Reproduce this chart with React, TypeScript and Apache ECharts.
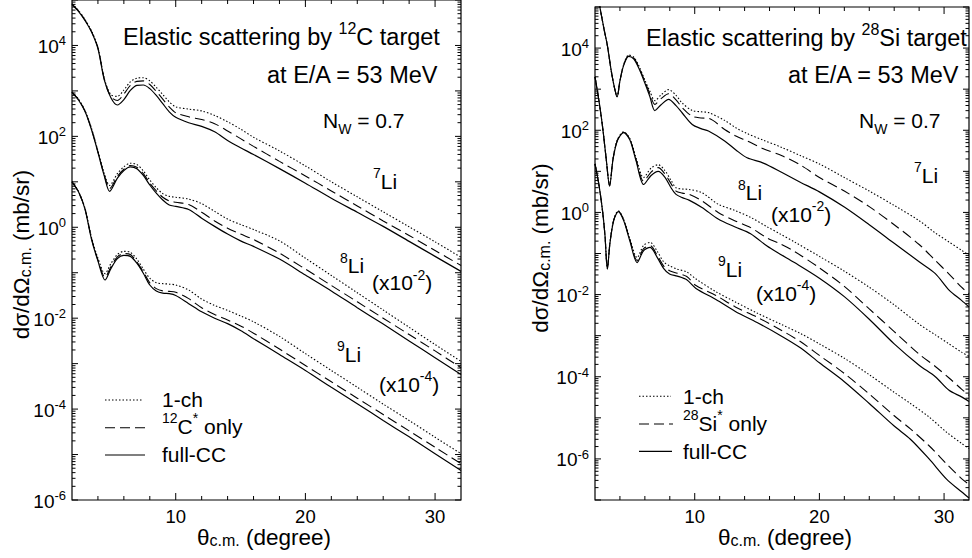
import React, { useEffect, useRef } from "react";
import * as echarts from "echarts";

const FONT = '"Liberation Sans", Arial, Helvetica, sans-serif';

// ---------- axes ----------
const X_MIN = 2;
const X_MAX = 32;
const xMajorTicks = [10, 20, 30];
const xMinorTicks = [4, 6, 8, 12, 14, 16, 18, 22, 24, 26, 28];
const yDecadesC = [-6, -5, -4, -3, -2, -1, 0, 1, 2, 3, 4, 5];
const yDecadesSi = [-7, -6, -5, -4, -3, -2, -1, 0, 1, 2, 3, 4, 5];
const yLabelExponents = [-6, -4, -2, 0, 2, 4];

// ---------- 12C target (left panel) : values are log10(dσ/dΩ) ----------
const thetaC7 = [2, 2.5, 3, 3.5, 4, 4.5, 5, 5.5, 6, 6.5, 7, 7.5, 8, 8.5, 9, 9.5, 10, 11, 12, 13, 14, 15, 16, 18, 20, 22, 24, 26, 28, 30, 32];
const c12Li7OneCh = [4.92, 4.77, 4.57, 4.32, 3.96, 3.26, 2.92, 2.88, 3.02, 3.2, 3.28, 3.29, 3.22, 3.08, 2.92, 2.76, 2.65, 2.6, 2.56, 2.46, 2.32, 2.16, 1.98, 1.68, 1.35, 1.0, 0.67, 0.34, 0.01, -0.32, -0.66];
const c12Li7Core = [4.91, 4.76, 4.56, 4.31, 3.95, 3.25, 2.87, 2.79, 2.93, 3.12, 3.21, 3.22, 3.14, 2.99, 2.82, 2.65, 2.52, 2.43, 2.37, 2.28, 2.12, 1.95, 1.78, 1.45, 1.13, 0.8, 0.47, 0.14, -0.18, -0.51, -0.84];
const c12Li7Full = [4.9, 4.75, 4.55, 4.3, 3.93, 3.23, 2.85, 2.69, 2.81, 3.01, 3.12, 3.13, 3.05, 2.9, 2.72, 2.54, 2.42, 2.3, 2.22, 2.1, 1.91, 1.75, 1.6, 1.29, 0.97, 0.64, 0.33, 0.02, -0.31, -0.64, -0.97];

const thetaC8 = [2, 2.5, 3, 3.5, 4, 4.5, 4.9, 5.5, 6, 6.5, 7, 7.5, 8, 8.5, 9, 9.5, 10, 11, 12, 13, 14, 15, 16, 18, 20, 22, 24, 26, 28, 30, 32];
const c12Li8OneCh = [2.98, 2.82, 2.57, 2.18, 1.68, 1.17, 0.92, 1.18, 1.33, 1.41, 1.38, 1.24, 1.04, 0.87, 0.74, 0.68, 0.66, 0.62, 0.52, 0.35, 0.18, 0.06, -0.05, -0.3, -0.68, -1.06, -1.44, -1.82, -2.2, -2.58, -2.95];
const c12Li8Core = [2.97, 2.81, 2.56, 2.16, 1.66, 1.14, 0.85, 1.12, 1.28, 1.36, 1.32, 1.18, 0.97, 0.8, 0.66, 0.58, 0.55, 0.5, 0.33, 0.14, -0.02, -0.15, -0.27, -0.57, -0.92, -1.28, -1.64, -2.0, -2.36, -2.72, -3.09];
const c12Li8Full = [2.97, 2.8, 2.55, 2.15, 1.65, 1.12, 0.79, 1.08, 1.25, 1.33, 1.29, 1.14, 0.93, 0.75, 0.6, 0.49, 0.46, 0.39, 0.2, 0.02, -0.15, -0.3, -0.42, -0.7, -1.05, -1.4, -1.77, -2.13, -2.5, -2.87, -3.24];

const thetaC9 = [2, 2.5, 3, 3.5, 4, 4.55, 5, 5.5, 6, 6.5, 7, 7.5, 8, 8.5, 9, 9.5, 10, 11, 12, 13, 14, 15, 16, 18, 20, 22, 24, 26, 28, 30, 32];
const c12Li9OneCh = [1.01, 0.79, 0.42, -0.22, -0.68, -1.02, -0.8, -0.6, -0.53, -0.55, -0.7, -0.92, -1.12, -1.22, -1.24, -1.25, -1.27, -1.38, -1.58, -1.72, -1.83, -1.95, -2.08, -2.4, -2.78, -3.15, -3.52, -3.89, -4.25, -4.62, -4.98];
const c12Li9Core = [1.0, 0.78, 0.41, -0.24, -0.72, -1.1, -0.87, -0.65, -0.58, -0.6, -0.76, -0.98, -1.22, -1.35, -1.4, -1.41, -1.43, -1.57, -1.77, -1.92, -2.04, -2.17, -2.33, -2.68, -3.04, -3.4, -3.76, -4.12, -4.48, -4.84, -5.2];
const c12Li9Full = [1.0, 0.78, 0.4, -0.26, -0.74, -1.16, -0.91, -0.69, -0.62, -0.64, -0.79, -1.01, -1.27, -1.4, -1.45, -1.46, -1.5, -1.68, -1.86, -2.0, -2.12, -2.27, -2.45, -2.8, -3.15, -3.52, -3.88, -4.25, -4.61, -4.98, -5.35];

// ---------- 28Si target (right panel) : values are log10(dσ/dΩ) ----------
const thetaS7 = [2, 2.4, 2.7, 3.0, 3.3, 3.55, 3.77, 4.0, 4.3, 4.7, 5.1, 5.5, 6.0, 6.4, 6.8, 7.3, 7.9, 8.5, 9.0, 9.8, 10.5, 11.1, 12.4, 13.3, 14.2, 15.5, 17, 18.5, 20, 22, 24, 26, 28, 29.3, 30.4, 31.4, 32];
const si28Li7OneCh = [5.6, 4.98, 4.5, 4.05, 3.45, 3.05, 2.82, 3.21, 3.6, 3.83, 3.78, 3.58, 3.22, 2.95, 2.72, 2.86, 2.99, 2.85, 2.66, 2.48, 2.45, 2.43, 2.24, 2.06, 1.92, 1.76, 1.58, 1.38, 1.18, 0.85, 0.52, 0.17, -0.2, -0.5, -0.72, -0.92, -1.04];
const si28Li7Core = [5.6, 4.98, 4.5, 4.05, 3.45, 3.05, 2.81, 3.2, 3.59, 3.81, 3.76, 3.55, 3.19, 2.89, 2.63, 2.77, 2.89, 2.74, 2.55, 2.34, 2.3, 2.29, 2.02, 1.86, 1.74, 1.55, 1.38, 1.15, 0.85, 0.52, 0.14, -0.3, -0.78, -1.17, -1.5, -1.82, -1.98];
const si28Li7Full = [5.6, 4.98, 4.5, 4.05, 3.45, 3.05, 2.81, 3.2, 3.58, 3.8, 3.74, 3.52, 3.15, 2.82, 2.48, 2.62, 2.75, 2.6, 2.42, 2.14, 2.04, 1.98, 1.74, 1.52, 1.33, 1.2, 0.97, 0.73, 0.5, 0.13, -0.3, -0.75, -1.2, -1.49, -1.89, -2.14, -2.3];

const thetaS8 = [2, 2.3, 2.6, 2.9, 3.17, 3.45, 3.8, 4.29, 4.8, 5.3, 5.9, 6.5, 7.07, 7.6, 8.1, 8.5, 9.0, 9.54, 10.58, 11.88, 13.2, 14.48, 15.8, 16.82, 18, 20, 22, 24, 26, 28, 29.3, 30.4, 31.4, 32];
const si28Li8OneCh = [3.3, 2.75, 2.1, 1.3, 0.66, 1.32, 1.77, 1.96, 1.8, 1.32, 0.85, 1.08, 1.16, 1.02, 0.78, 0.6, 0.57, 0.56, 0.48, 0.2, 0.05, -0.12, -0.35, -0.52, -0.72, -1.07, -1.43, -1.82, -2.25, -2.72, -2.98, -3.2, -3.4, -3.5];
const si28Li8Core = [3.3, 2.75, 2.1, 1.3, 0.65, 1.31, 1.76, 1.95, 1.78, 1.28, 0.76, 0.98, 1.09, 0.94, 0.7, 0.52, 0.47, 0.44, 0.28, 0.0, -0.2, -0.37, -0.62, -0.76, -0.95, -1.35, -1.8, -2.35, -2.9, -3.45, -3.75, -4.03, -4.3, -4.45];
const si28Li8Full = [3.3, 2.75, 2.1, 1.3, 0.64, 1.3, 1.75, 1.94, 1.76, 1.25, 0.68, 0.9, 1.0, 0.86, 0.6, 0.44, 0.36, 0.3, 0.12, -0.16, -0.35, -0.52, -0.82, -1.01, -1.22, -1.6, -2.05, -2.6, -3.2, -3.72, -4.0, -4.33, -4.49, -4.6];

const thetaS9 = [2, 2.3, 2.6, 2.8, 2.99, 3.2, 3.5, 3.87, 4.3, 4.8, 5.38, 5.9, 6.42, 7.0, 7.5, 7.98, 8.6, 9.36, 10.1, 11.7, 13.26, 15, 16.9, 18.5, 20, 22, 24, 26, 27.3, 28.8, 30.2, 31.4, 32];
const si28Li9OneCh = [1.18, 0.7, 0.05, -0.56, -1.36, -0.73, -0.18, 0.04, -0.17, -0.64, -1.1, -0.8, -0.73, -0.95, -1.2, -1.3, -1.38, -1.45, -1.62, -1.93, -2.18, -2.45, -2.72, -2.95, -3.2, -3.55, -3.95, -4.38, -4.65, -4.98, -5.35, -5.62, -5.75];
const si28Li9Core = [1.18, 0.7, 0.05, -0.56, -1.37, -0.74, -0.19, 0.03, -0.18, -0.67, -1.17, -0.88, -0.81, -1.05, -1.3, -1.42, -1.48, -1.56, -1.78, -2.02, -2.3, -2.55, -2.86, -3.15, -3.48, -3.92, -4.42, -4.95, -5.27, -5.68, -6.12, -6.48, -6.62];
const si28Li9Full = [1.18, 0.7, 0.05, -0.56, -1.38, -0.75, -0.2, 0.02, -0.2, -0.7, -1.22, -0.93, -0.85, -1.1, -1.36, -1.5, -1.55, -1.64, -1.85, -2.12, -2.41, -2.68, -3.0, -3.3, -3.66, -4.12, -4.65, -5.2, -5.52, -6.0, -6.49, -6.8, -6.95];

// ---------- styles ----------
const INK = "#000";
const lineStyles: Record<string, any> = {
  oneCh: { type: [1.5, 2], width: 1.1 },
  core: { type: [10, 5], width: 1.1 },
  full: { type: "solid", width: 1.2 },
};

function toPoints(theta: number[], logs: number[]) {
  return theta.map((t, i) => [t, Math.pow(10, logs[i])]);
}

type Curve = { theta: number[]; oneCh: number[]; core: number[]; full: number[] };
const panelCurves: Curve[][] = [
  [
    { theta: thetaC7, oneCh: c12Li7OneCh, core: c12Li7Core, full: c12Li7Full },
    { theta: thetaC8, oneCh: c12Li8OneCh, core: c12Li8Core, full: c12Li8Full },
    { theta: thetaC9, oneCh: c12Li9OneCh, core: c12Li9Core, full: c12Li9Full },
  ],
  [
    { theta: thetaS7, oneCh: si28Li7OneCh, core: si28Li7Core, full: si28Li7Full },
    { theta: thetaS8, oneCh: si28Li8OneCh, core: si28Li8Core, full: si28Li8Full },
    { theta: thetaS9, oneCh: si28Li9OneCh, core: si28Li9Core, full: si28Li9Full },
  ],
];

function yTickData(decades: number[]) {
  const out: number[][] = [];
  const last = decades[decades.length - 1];
  decades.forEach((d) => {
    out.push([X_MIN, Math.pow(10, d), 1]);
    if (d < last) for (let k = 2; k <= 9; k++) out.push([X_MIN, k * Math.pow(10, d), 0]);
  });
  return out;
}

function xTickData(yMin: number) {
  return [...xMajorTicks.map((x) => [x, yMin, 1]), ...xMinorTicks.map((x) => [x, yMin, 0])];
}

const tickStyle = { stroke: INK, lineWidth: 1 };

function yTickRender(params: any, api: any) {
  const cs = params.coordSys;
  const y = api.coord([X_MIN, api.value(1)])[1];
  const len = api.value(2) === 1 ? 6 : 3.5;
  return {
    type: "group",
    children: [
      { type: "line", shape: { x1: cs.x, y1: y, x2: cs.x + len, y2: y }, style: tickStyle },
      { type: "line", shape: { x1: cs.x + cs.width - len, y1: y, x2: cs.x + cs.width, y2: y }, style: tickStyle },
    ],
  };
}

function xTickRender(params: any, api: any) {
  const cs = params.coordSys;
  const x = api.coord([api.value(0), api.value(1)])[0];
  const len = api.value(2) === 1 ? 7 : 4;
  return {
    type: "group",
    children: [
      { type: "line", shape: { x1: x, y1: cs.y + cs.height, x2: x, y2: cs.y + cs.height - len }, style: tickStyle },
      { type: "line", shape: { x1: x, y1: cs.y, x2: x, y2: cs.y + len }, style: tickStyle },
    ],
  };
}

// y tick labels 10^n drawn at the log axis positions
function yLabelRender(params: any, api: any) {
  const cs = params.coordSys;
  const y = api.coord([X_MIN, api.value(1)])[1];
  const e = Math.round(api.value(2));
  return {
    type: "text",
    x: cs.x - 6,
    y: y + 1,
    silent: true,
    style: {
      text: `10{sup|${e}}`,
      fontSize: 19,
      fontFamily: FONT,
      fill: INK,
      lineHeight: 24,
      align: "right",
      verticalAlign: "middle",
      textAlign: "right",
      textVerticalAlign: "middle",
      rich: { sup: { fontSize: 13, lineHeight: 12, verticalAlign: "top", fontFamily: FONT, fill: INK } },
    },
  };
}

// ---------- text helpers ----------
function label(x: number, y: number, text: string, fs: number, opts: any = {}) {
  const L = opts.lineHeight ?? Math.round(fs * 1.42);
  return {
    type: "text",
    x,
    y,
    rotation: opts.rotation ?? 0,
    silent: true,
    z: 10,
    style: {
      text,
      fontSize: fs,
      fontFamily: FONT,
      fill: INK,
      lineHeight: L,
      align: opts.align ?? "left",
      verticalAlign: "middle",
      textAlign: opts.align ?? "left",
      textVerticalAlign: "middle",
      rich: {
        sup: { fontSize: opts.supSize ?? Math.round(fs * 0.67), lineHeight: opts.supLH ?? 14, verticalAlign: "top", fontFamily: FONT, fill: INK },
        sub: { fontSize: opts.subSize ?? Math.round(fs * 0.67), lineHeight: opts.subLH ?? 18, verticalAlign: "bottom", fontFamily: FONT, fill: INK },
      },
    },
  };
}

function legendLine(x1: number, x2: number, y: number, kind: string) {
  const s = lineStyles[kind];
  return {
    type: "line",
    silent: true,
    z: 10,
    shape: { x1, y1: y, x2, y2: y },
    style: { stroke: INK, lineWidth: s.width, lineDash: Array.isArray(s.type) ? s.type : null },
  };
}

const TITLE_FS = 23.5;
const LABEL_FS = 21;
const AXIS_TITLE_FS = 22.5;
const supOpts = { lineHeight: 30, supSize: 14, supLH: 14 };
const xTitleOpts = { align: "center", lineHeight: 22, subSize: 16, subLH: 4 };
const yTitleOpts = { align: "center", lineHeight: 24, subSize: 16, subLH: 4, rotation: Math.PI / 2 };

const graphics = [
  // left panel texts
  label(123, 36.8, "Elastic scattering by {sup|12}C target", TITLE_FS, { supSize: 16, supLH: 15, lineHeight: 33 }),
  label(267, 75.4, "at E/A = 53 MeV", TITLE_FS, { lineHeight: 33 }),
  label(323, 120.6, "N{sub|W} = 0.7", LABEL_FS, { lineHeight: 30, subSize: 14, subLH: 18 }),
  label(373, 181, "{sup|7}Li", LABEL_FS, supOpts),
  label(340, 265.7, "{sup|8}Li", LABEL_FS, supOpts),
  label(372, 282.7, "(x10{sup|-2})", LABEL_FS, supOpts),
  label(337, 354.3, "{sup|9}Li", LABEL_FS, supOpts),
  label(379, 384.3, "(x10{sup|-4})", LABEL_FS, supOpts),
  legendLine(105, 143, 400, "oneCh"),
  legendLine(105, 145, 427.7, "core"),
  legendLine(105, 145, 455, "full"),
  label(162, 399.3, "1-ch", LABEL_FS, { lineHeight: 30 }),
  label(162, 426, "{sup|12}C{sup|*} only", LABEL_FS, supOpts),
  label(162, 454, "full-CC", LABEL_FS, { lineHeight: 30 }),
  label(264, 537, "θ{sub|c.m.} (degree)", AXIS_TITLE_FS, xTitleOpts),
  label(21, 254.5, "dσ/dΩ{sub|c.m.} (mb/sr)", AXIS_TITLE_FS, yTitleOpts),

  // right panel texts
  label(646, 38.3, "Elastic scattering by {sup|28}Si target", TITLE_FS, { supSize: 16, supLH: 15, lineHeight: 33 }),
  label(788, 75.2, "at E/A = 53 MeV", TITLE_FS, { lineHeight: 33 }),
  label(859, 120.6, "N{sub|W} = 0.7", LABEL_FS, { lineHeight: 30, subSize: 14, subLH: 18 }),
  label(914, 175.3, "{sup|7}Li", LABEL_FS, supOpts),
  label(738, 192.6, "{sup|8}Li", LABEL_FS, supOpts),
  label(771, 214.3, "(x10{sup|-2})", LABEL_FS, supOpts),
  label(718, 269.3, "{sup|9}Li", LABEL_FS, supOpts),
  label(756, 293.3, "(x10{sup|-4})", LABEL_FS, supOpts),
  legendLine(639, 671, 396.3, "oneCh"),
  legendLine(639, 673, 424, "core"),
  legendLine(639, 672, 451.3, "full"),
  label(683, 396.6, "1-ch", LABEL_FS, { lineHeight: 30 }),
  label(683, 423.3, "{sup|28}Si{sup|*} only", LABEL_FS, supOpts),
  label(683, 451.6, "full-CC", LABEL_FS, { lineHeight: 30 }),
  label(785, 537, "θ{sub|c.m.} (degree)", AXIS_TITLE_FS, xTitleOpts),
  label(540.5, 248, "dσ/dΩ{sub|c.m.} (mb/sr)", AXIS_TITLE_FS, yTitleOpts),
];

function buildOption() {
  const grid = [
    { left: 72, top: 0, width: 389, height: 500, show: true, borderColor: INK, borderWidth: 1.2, backgroundColor: "transparent", containLabel: false },
    { left: 595, top: 7, width: 385, height: 493, show: true, borderColor: INK, borderWidth: 1.2, backgroundColor: "transparent", containLabel: false },
  ];
  const yRanges = [
    [1e-6, 1e5],
    [1e-7, 1e5],
  ];
  const xAxis = [0, 1].map((g) => ({
    gridIndex: g,
    type: "value",
    min: X_MIN,
    max: X_MAX,
    splitNumber: 3,
    axisLine: { show: false },
    axisTick: { show: false },
    splitLine: { show: false },
    axisLabel: {
      formatter: (v: number) => (xMajorTicks.indexOf(Math.round(v)) >= 0 && Math.abs(v - Math.round(v)) < 1e-6 ? String(Math.round(v)) : ""),
      fontSize: 18.5,
      lineHeight: 18,
      fontFamily: FONT,
      color: INK,
      margin: 7,
    },
  }));
  const yAxis = [0, 1].map((g) => ({
    gridIndex: g,
    type: "log",
    logBase: 10,
    min: yRanges[g][0],
    max: yRanges[g][1],
    axisLine: { show: false },
    axisTick: { show: false },
    splitLine: { show: false },
    axisLabel: { show: false },
  }));

  const series: any[] = [];
  panelCurves.forEach((curves, g) => {
    curves.forEach((c) => {
      (["oneCh", "core", "full"] as const).forEach((kind) => {
        series.push({
          type: "line",
          xAxisIndex: g,
          yAxisIndex: g,
          data: toPoints(c.theta, c[kind]),
          symbol: "none",
          showSymbol: false,
          smooth: 0.3,
          clip: true,
          silent: true,
          z: 3,
          lineStyle: { color: INK, width: lineStyles[kind].width, type: lineStyles[kind].type },
        });
      });
    });
    series.push({
      type: "custom",
      xAxisIndex: g,
      yAxisIndex: g,
      silent: true,
      z: 5,
      encode: { x: 0, y: 1 },
      data: yTickData(g === 0 ? yDecadesC : yDecadesSi),
      renderItem: yTickRender,
    });
    series.push({
      type: "custom",
      xAxisIndex: g,
      yAxisIndex: g,
      silent: true,
      z: 5,
      encode: { x: 0, y: 1 },
      data: xTickData(yRanges[g][0]),
      renderItem: xTickRender,
    });
    series.push({
      type: "custom",
      xAxisIndex: g,
      yAxisIndex: g,
      silent: true,
      z: 6,
      clip: false,
      encode: { x: 0, y: 1 },
      data: yLabelExponents.map((e) => [X_MIN, Math.pow(10, e), e]),
      renderItem: yLabelRender,
    });
  });

  return {
    animation: false,
    backgroundColor: "#fff",
    grid,
    xAxis,
    yAxis,
    series,
    graphic: { elements: graphics },
  };
}

export default function App() {
  const ref = useRef<HTMLDivElement>(null);
  useEffect(() => {
    if (!ref.current) return;
    const chart = echarts.init(ref.current, null, { renderer: "svg" });
    chart.setOption(buildOption() as any);
    return () => chart.dispose();
  }, []);
  return (
    <div
      ref={ref}
      style={{ position: "fixed", left: 0, top: 0, width: 972, height: 558, background: "#fff", overflow: "hidden" }}
    />
  );
}
